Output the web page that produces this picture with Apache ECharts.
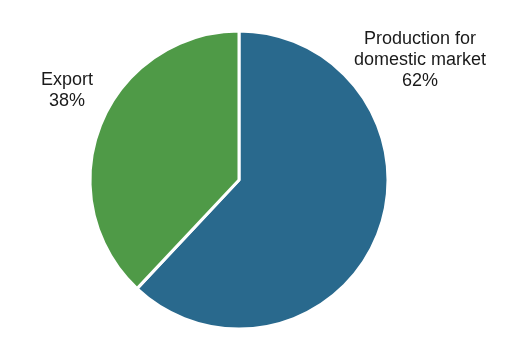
<!DOCTYPE html>
<html><head><meta charset="utf-8">
<script src="https://cdn.jsdelivr.net/npm/echarts@6/dist/echarts.min.js"></script>
<style>html,body{margin:0;padding:0;background:#fff}#c{width:507px;height:338px}</style>
</head><body><div id="c"></div>
<script>
const categories = ['Production for domestic market', 'Export'];
const labelTexts = ['Production for\ndomestic market', 'Export'];
const values = [62, 38];
const colors = ['#29698D', '#4F9A47'];
const labelPos = [[420, 60], [67, 91]];

const chart = echarts.init(document.getElementById('c'), null, {renderer: 'canvas'});
chart.setOption({
  animation: false,
  series: [{
    type: 'pie',
    center: [239, 180],
    radius: 149,
    startAngle: 90,
    clockwise: true,
    data: categories.map((c, i) => ({
      name: c, value: values[i],
      itemStyle: {color: colors[i]},
      label: {formatter: labelTexts[i] + '\n{d}%'}
    })),
    itemStyle: {borderColor: '#fff', borderWidth: 3},
    label: {
      show: true, position: 'outside', alignTo: 'none',
      overflow: 'none',
      fontFamily: 'Liberation Sans, Arial, sans-serif',
      fontSize: 18, lineHeight: 21, color: '#1a1a1a', align: 'center'
    },
    labelLine: {show: false},
    labelLayout: function (p) {
      const pos = labelPos[p.dataIndex];
      return {x: pos[0], y: pos[1], align: 'center', verticalAlign: 'middle', hideOverlap: false};
    },
    emphasis: {disabled: true}
  }]
});
</script></body></html>
